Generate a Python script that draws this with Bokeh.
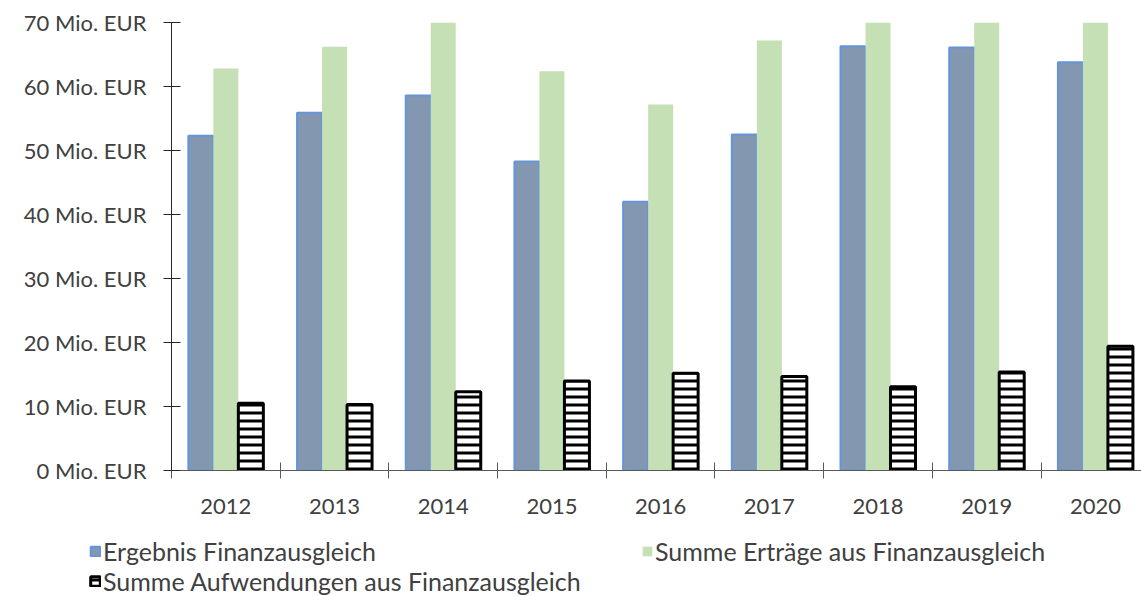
from bokeh.plotting import figure
from bokeh.models import ColumnDataSource, FixedTicker, Legend, LegendItem, Range1d
from bokeh.transform import dodge
from bokeh.embed import file_html
from bokeh.resources import INLINE

years = ["2012", "2013", "2014", "2015", "2016", "2017", "2018", "2019", "2020"]
ergebnis = [52.3, 55.9, 58.6, 48.3, 42.0, 52.5, 66.3, 66.1, 63.8]
ertraege = [62.8, 66.2, 70.9, 62.4, 57.2, 67.2, 79.4, 81.5, 83.2]
aufwendungen = [10.5, 10.3, 12.3, 14.0, 15.2, 14.7, 13.1, 15.4, 19.4]
y_ticks = [0, 10, 20, 30, 40, 50, 60, 70]
y_tick_labels = [f"{v} Mio. EUR" for v in y_ticks]
series_names = ["Ergebnis Finanzausgleich", "Summe Erträge aus Finanzausgleich",
                "Summe Aufwendungen aus Finanzausgleich"]

FONT = "Lato"
TXT = "#404040"
BLUE = dict(fill_color="#8497B0", line_color="#6495DB", line_width=2)
GREEN = dict(fill_color="#C5E0B4", line_color=None)
HATCH = dict(fill_color="white", line_color="black", line_width=3,
             hatch_pattern="horizontal_line", hatch_color="black",
             hatch_scale=8, hatch_weight=3)

x_pos = [i + 0.5 for i in range(len(years))]
src = ColumnDataSource(dict(x=x_pos, erg=ergebnis, ert=ertraege, auf=aufwendungen))

p = figure(width=1141, height=533, output_backend="svg", toolbar_location=None,
           x_range=Range1d(0, 8.924), y_range=Range1d(0, 70),
           min_border_left=171, min_border_right=0, min_border_top=22,
           min_border_bottom=63)
p.outline_line_color = None
p.xgrid.visible = False
p.ygrid.visible = False

bw = 0.23
p.vbar(x=dodge("x", -0.23, range=p.x_range), top="erg", width=bw, source=src, **BLUE)
p.vbar(x=dodge("x", 0.0, range=p.x_range), top="ert", width=bw, source=src, **GREEN)
p.vbar(x=dodge("x", 0.23, range=p.x_range), top="auf", width=bw, source=src, **HATCH)

# y axis
ya = p.yaxis[0]
ya.ticker = FixedTicker(ticks=y_ticks, minor_ticks=[])
ya.major_label_overrides = {v: l for v, l in zip(y_ticks, y_tick_labels)}
ya.major_tick_in = 9
ya.major_tick_out = 8
ya.minor_tick_in = 0
ya.minor_tick_out = 0
ya.major_label_standoff = 17
ya.axis_line_color = "#262626"
ya.major_tick_line_color = "#262626"
ya.major_label_text_font = FONT
ya.major_label_text_font_size = "22px"
ya.major_label_text_color = TXT

# x axis: labels at category centres, ticks at category boundaries
xa = p.xaxis[0]
xa.ticker = FixedTicker(ticks=x_pos, minor_ticks=list(range(len(years) + 1)))
xa.major_label_overrides = {x: y for x, y in zip(x_pos, years)}
xa.major_tick_in = 0
xa.major_tick_out = 0
xa.minor_tick_in = 8
xa.minor_tick_out = 8
xa.minor_tick_line_color = "#595959"
xa.axis_line_color = "#595959"
xa.major_label_standoff = 20
xa.major_label_text_font = FONT
xa.major_label_text_font_size = "22px"
xa.major_label_text_color = TXT

# legend in its own strip below the chart; its renderers are hidden,
# the legend still draws their swatches (inactive overlay made transparent)
lf = figure(width=1141, height=63, output_backend="svg", toolbar_location=None,
            x_range=Range1d(0, 9), y_range=Range1d(0, 100),
            min_border_left=0, min_border_right=0, min_border_top=0,
            min_border_bottom=0)
lf.axis.visible = False
lf.grid.visible = False
lf.outline_line_color = None
g1 = lf.vbar(x="x", top="erg", width=bw, source=src, visible=False, **BLUE)
g2 = lf.vbar(x="x", top="ert", width=bw, source=src, visible=False, **GREEN)
g3 = lf.vbar(x="x", top="auf", width=bw, source=src, visible=False, **HATCH)

legend = Legend(items=[LegendItem(label=series_names[0], renderers=[g1]),
                       LegendItem(label=series_names[1], renderers=[g2]),
                       LegendItem(label=series_names[2], renderers=[g3])],
                location=(89, 0), orientation="horizontal", ncols=2,
                padding=0, margin=0, spacing=0,
                glyph_width=12, glyph_height=12, label_standoff=2,
                label_width=538, label_height=30,
                label_text_font=FONT, label_text_font_size="25px",
                label_text_color=TXT, inactive_fill_alpha=0,
                border_line_color=None, background_fill_alpha=0)
lf.add_layout(legend, "center")

open("out.html", "w").write(file_html([p, lf], INLINE))
